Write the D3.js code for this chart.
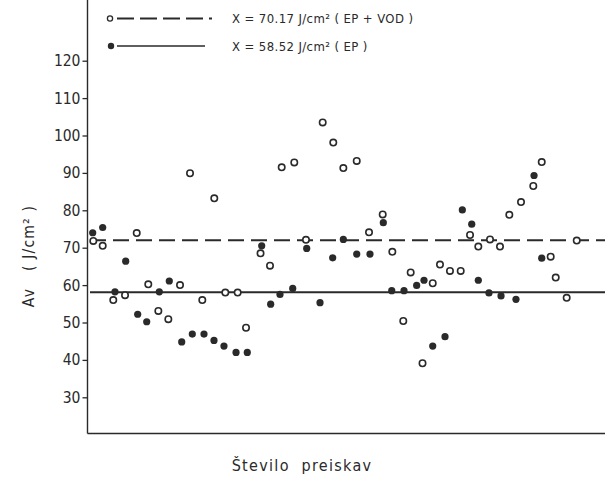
<!DOCTYPE html>
<html><head><meta charset="utf-8">
<script src="https://cdn.jsdelivr.net/npm/d3@7"></script>
<style>
html,body{margin:0;padding:0;background:#fff;}
svg{display:block;}
text{font-family:"DejaVu Sans Condensed","DejaVu Sans",sans-serif;fill:#2a2a2a;white-space:pre;}
</style></head>
<body>
<script>
// Test number (x) and Av value (y) for each series
const openX = [0.85,2.12,3.55,5.14,6.72,8.28,9.64,10.99,12.57,13.92,15.58,17.2,18.69,20.36,21.49,23.45,24.73,26.31,28.01,29.59,31.85,33.28,34.64,36.45,38.11,39.96,41.26,42.74,43.74,45.34,46.72,47.7,49.05,50.5,51.76,52.88,54.46,55.81,57.07,58.65,60.31,61.45,62.66,63.34,64.82,66.18];
const openY = [71.8,70.5,56.0,57.3,73.9,60.2,53.1,50.9,60.0,89.9,56.0,83.2,58.0,58.0,48.6,68.5,65.2,91.5,92.8,72.1,103.5,98.1,91.3,93.2,74.1,78.9,68.9,50.4,63.4,39.1,60.5,65.5,63.8,63.8,73.4,70.3,72.2,70.3,78.8,82.2,86.5,92.9,67.6,62.0,56.6,71.9];
const filledX = [0.77,2.12,3.78,5.23,6.85,8.07,9.77,11.12,12.8,14.23,15.81,17.16,18.51,20.14,21.66,23.61,24.82,26.08,27.8,29.69,31.49,33.2,34.64,36.45,38.24,40.04,41.18,42.84,44.55,45.54,46.72,48.38,50.72,51.99,52.88,54.32,55.95,57.97,60.41,61.45];
const filledY = [74.0,75.4,58.2,66.4,52.2,50.2,58.2,61.1,44.8,46.9,46.9,45.2,43.7,42.0,42.0,70.5,54.9,57.5,59.1,69.8,55.3,67.3,72.2,68.3,68.3,76.7,58.5,58.5,59.9,61.3,43.7,46.2,80.1,76.3,61.3,57.9,57.1,56.2,89.3,67.2];
const meanLevels = [72.0, 58.1];
const legendLabels = ["X = 70.17 J/cm\u00b2 ( EP + VOD )", "X = 58.52 J/cm\u00b2 ( EP )"];
const yTicks = [30,40,50,60,70,80,90,100,110,120];
const yTitle = "Av   ( J/cm\u00b2 )";
const xTitle = "Število  preiskav";

const W = 608, H = 477;
const svg = d3.select("body").append("svg").attr("width", W).attr("height", H);

const x = d3.scaleLinear().domain([0, 70]).range([87, 605]);
const y = d3.scaleLinear().domain([30, 120]).range([397.3, 60.7]);
const ink = "#2a2a2a";

// axes
const yAxis = d3.axisLeft(y).tickValues(yTicks).tickSize(5).tickPadding(2).tickSizeOuter(0);
const gy = svg.append("g").attr("transform", "translate(87.5,0)").call(yAxis);
gy.select(".domain").remove();
gy.selectAll(".tick line").attr("stroke", ink).attr("stroke-width", 1.3);
gy.selectAll(".tick text").attr("font-size", 15.5).attr("fill", ink)
  .style("font-family", '"DejaVu Sans Condensed","DejaVu Sans",sans-serif');
svg.append("line").attr("x1", 87.5).attr("x2", 87.5).attr("y1", 0).attr("y2", 433.5)
  .attr("stroke", ink).attr("stroke-width", 1.4);
svg.append("line").attr("x1", 87.5).attr("x2", 605).attr("y1", 433.5).attr("y2", 433.5)
  .attr("stroke", ink).attr("stroke-width", 1.4);

// mean lines
svg.append("line").attr("x1", 90).attr("x2", 605).attr("y1", y(meanLevels[0])).attr("y2", y(meanLevels[0]))
  .attr("stroke", ink).attr("stroke-width", 2).attr("stroke-dasharray", "16,7");
svg.append("line").attr("x1", 90).attr("x2", 605).attr("y1", y(meanLevels[1])).attr("y2", y(meanLevels[1]))
  .attr("stroke", ink).attr("stroke-width", 2);

// points
svg.append("g").selectAll("circle").data(d3.range(filledX.length)).join("circle")
  .attr("cx", i => x(filledX[i])).attr("cy", i => y(filledY[i])).attr("r", 3.6)
  .attr("fill", ink);
svg.append("g").selectAll("circle").data(d3.range(openX.length)).join("circle")
  .attr("cx", i => x(openX[i])).attr("cy", i => y(openY[i])).attr("r", 3.2)
  .attr("fill", "#fff").attr("stroke", ink).attr("stroke-width", 1.6);

// legend
const lg = svg.append("g");
lg.append("circle").attr("cx", 110).attr("cy", 18.5).attr("r", 2.6).attr("fill", "#fff").attr("stroke", ink).attr("stroke-width", 1.3);
lg.append("line").attr("x1", 117).attr("x2", 212).attr("y1", 18.5).attr("y2", 18.5).attr("stroke", ink).attr("stroke-width", 2).attr("stroke-dasharray", "17,6");
lg.append("circle").attr("cx", 111).attr("cy", 46).attr("r", 3.2).attr("fill", ink);
lg.append("line").attr("x1", 117).attr("x2", 205).attr("y1", 46).attr("y2", 46).attr("stroke", ink).attr("stroke-width", 1.6);
lg.append("text").attr("x", 232).attr("y", 23).attr("font-size", 13).attr("letter-spacing", 0.4).text(legendLabels[0]);
lg.append("text").attr("x", 232).attr("y", 51).attr("font-size", 13).attr("letter-spacing", 0.4).text(legendLabels[1]);

// titles
svg.append("text").attr("transform", "translate(34,256) rotate(-90)").attr("text-anchor", "middle")
  .attr("font-size", 15.5).attr("letter-spacing", 1.2).text(yTitle);
svg.append("text").attr("x", 302).attr("y", 471).attr("text-anchor", "middle")
  .attr("font-size", 16).attr("letter-spacing", 1.3).text(xTitle);
</script>
</body></html>
